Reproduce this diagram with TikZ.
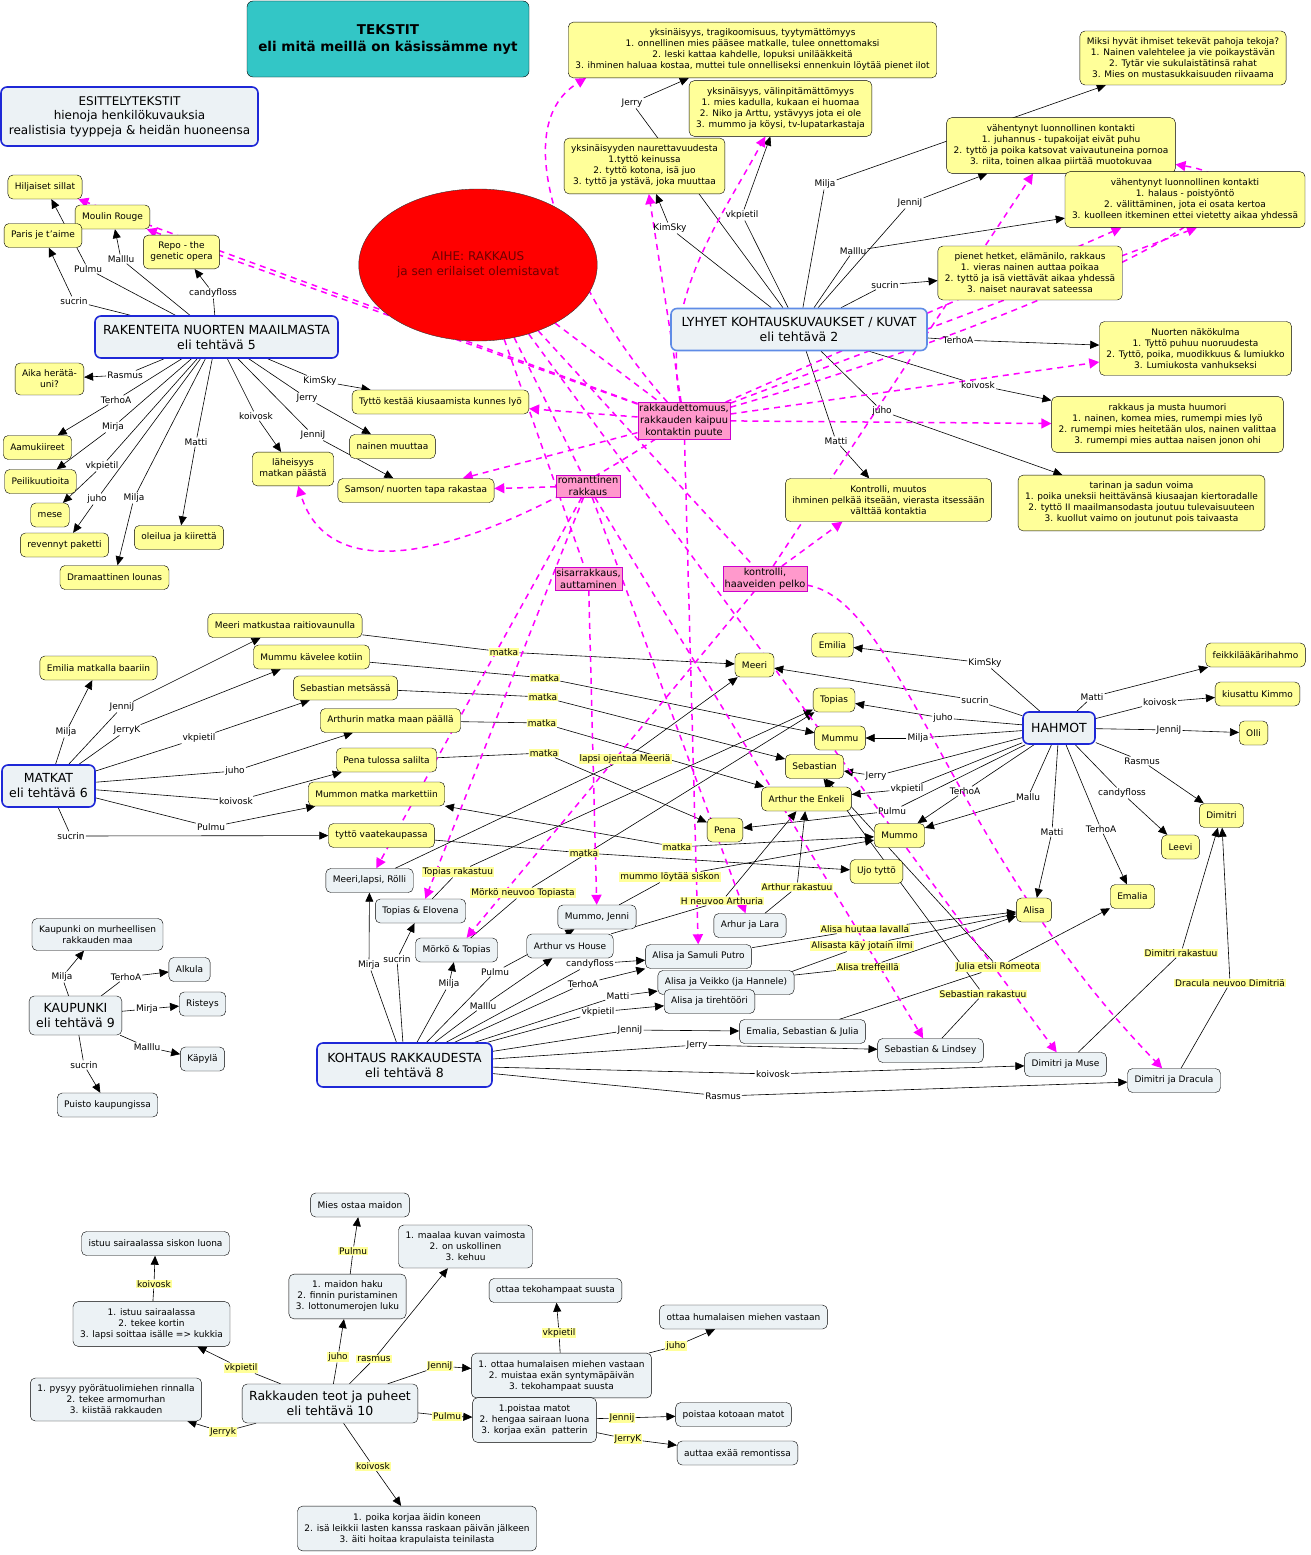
\documentclass[tikz,border=0pt]{standalone}
\usepackage{fontspec}
\setmainfont{DejaVu Sans}
\usetikzlibrary{arrows.meta,shapes.geometric,backgrounds,positioning}
\definecolor{keltainen}{RGB}{255,255,153}
\definecolor{harmaa}{RGB}{236,242,245}
\definecolor{sininen}{RGB}{30,40,215}
\definecolor{vaalsin}{RGB}{95,140,230}
\definecolor{turkoosi}{RGB}{51,198,198}
\definecolor{vpinkki}{RGB}{255,153,204}
\definecolor{fuksia}{RGB}{255,0,255}
\definecolor{tpuna}{RGB}{110,0,0}

\begin{document}
\begin{tikzpicture}[
    x=1pt, y=-1pt,
    >={Triangle[length=9pt,width=8pt]},
    every node/.style={font=\fontsize{9}{11}\selectfont, align=center},
    kelta/.style={draw, rounded corners=5pt, fill=keltainen, inner xsep=7pt, inner ysep=7pt, minimum height=24pt},
    harma/.style={kelta, fill=harmaa},
    paa/.style={draw=sininen, line width=1.6pt, rounded corners=6pt, fill=harmaa, font=\fontsize{12.5}{15}\selectfont},
    otsikko/.style={draw, rounded corners=6pt, fill=turkoosi, minimum width=282, minimum height=76, font=\bfseries\fontsize{13.5}{17}\selectfont},
    aiheel/.style={ellipse, draw=black!80, fill=red, text=tpuna, minimum width=234, minimum height=152, font=\fontsize{12}{15}\selectfont},
    teema/.style={draw=fuksia!80!black, fill=vpinkki, inner sep=1.5pt, font=\fontsize{9.8}{12}\selectfont},
    sana/.style={inner sep=1pt},
    kyltti/.style={inner sep=1pt, fill=keltainen},
    viiva/.style={line width=0.6pt},
    nuoli/.style={viiva, ->},
    haave/.style={draw=fuksia, line width=1.5pt, dash pattern=on 6pt off 5pt, -{Triangle[length=10pt,width=10pt]}, fuksia}
]
  \useasboundingbox (0,0) rectangle (1310,1555);

  % otsikot ja aihe
  \node[otsikko] (tekstit) at (388,39) {TEKSTIT\\eli mitä meillä on käsissämme nyt};
  \node[paa, minimum width=257, minimum height=59, font=\fontsize{12}{14.5}\selectfont] (esittely) at (129.5,116.5) {ESITTELYTEKSTIT\\hienoja henkilökuvauksia\\realistisia tyyppeja \& heidän huoneensa};
  \node[aiheel] (aihe) at (478,265) {AIHE: RAKKAUS\\ja sen erilaiset olemistavat};

  % tehtävä 5
  \node[paa, minimum width=243, minimum height=42] (rak) at (216.5,337) {RAKENTEITA NUORTEN MAAILMASTA\\eli tehtävä 5};
  \node[kelta] (hilj) at (45,187) {Hiljaiset sillat};
  \node[kelta] (moulin) at (112.5,217) {Moulin Rouge};
  \node[kelta] (paris) at (43,235.5) {Paris je t'aime};
  \node[kelta] (repo) at (181.5,252) {Repo - the\\genetic opera};
  \node[kelta] (aika) at (49.5,379) {Aika herätä-\\uni?};
  \node[kelta] (aamu) at (37.5,447.5) {Aamukiireet};
  \node[kelta] (peili) at (40.5,481.5) {Peilikuutioita};
  \node[kelta] (mese) at (50,515) {mese};
  \node[kelta] (paketti) at (64.5,545) {revennyt paketti};
  \node[kelta] (lounas) at (114.5,577.5) {Dramaattinen lounas};
  \node[kelta] (oleilua) at (179,537.5) {oleilua ja kiirettä};
  \node[kelta] (laheis) at (293,469) {läheisyys\\matkan päästä};
  \node[kelta] (kiusa) at (440.5,402) {Tyttö kestää kiusaamista kunnes lyö};
  \node[kelta] (nainen) at (392.5,446.5) {nainen muuttaa};
  \node[kelta] (samson) at (416,490.5) {Samson/ nuorten tapa rakastaa};

  \node[sana] (rsucrin) at (74,301) {sucrin};
  \node[sana] (rpulmu) at (88,269) {Pulmu};
  \node[sana] (rmalllu) at (121,259) {Malllu};
  \node[sana] (rcandy) at (213,293) {candyfloss};
  \node[sana] (rrasmus) at (125,375) {Rasmus};
  \node[sana] (rterho) at (116,400) {TerhoA};
  \node[sana] (rmirja) at (113,427) {Mirja};
  \node[sana] (rvkp) at (102,466) {vkpietil};
  \node[sana] (rjuho) at (97,499) {juho};
  \node[sana] (rmilja) at (134,498) {Milja};
  \node[sana] (rmatti) at (196,442) {Matti};
  \node[sana] (rkoivosk) at (256,416) {koivosk};
  \node[sana] (rjenni) at (313,435) {JenniJ};
  \node[sana] (rjerry) at (307,398) {Jerry};
  \node[sana] (rkimsky) at (320,381) {KimSky};

  % tehtävä 2
  \node[paa, draw=vaalsin, minimum width=256, minimum height=42] (lyhyet) at (799,329.5) {LYHYET KOHTAUSKUVAUKSET / KUVAT\\eli tehtävä 2};
  \node[kelta] (y1) at (752.5,50) {yksinäisyys, tragikoomisuus, tyytymättömyys\\1. onnellinen mies pääsee matkalle, tulee onnettomaksi\\2. leski kattaa kahdelle, lopuksi unilääkkeitä\\3. ihminen haluaa kostaa, muttei tule onnelliseksi ennenkuin löytää pienet ilot};
  \node[kelta] (y2) at (780.5,108.5) {yksinäisyys, välinpitämättömyys\\1. mies kadulla, kukaan ei huomaa\\2. Niko ja Arttu, ystävyys jota ei ole\\3. mummo ja köysi, tv-lupatarkastaja};
  \node[kelta] (y3) at (644.5,166) {yksinäisyyden naurettavuudesta\\1.tyttö keinussa\\2. tyttö kotona, isä juo\\3. tyttö ja ystävä, joka muuttaa};
  \node[kelta] (miksi) at (1183,58) {Miksi hyvät ihmiset tekevät pahoja tekoja?\\1. Nainen valehtelee ja vie poikaystävän\\2. Tytär vie sukulaistätinsä rahat\\3. Mies on mustasukkaisuuden riivaama};
  \node[kelta] (y5) at (1061,145.5) {vähentynyt luonnollinen kontakti\\1. juhannus - tupakoijat eivät puhu\\2. tyttö ja poika katsovat vaivautuneina pornoa\\3. riita, toinen alkaa piirtää muotokuvaa};
  \node[kelta] (y6) at (1185,199.5) {vähentynyt luonnollinen kontakti\\1. halaus - poistyöntö\\2. välittäminen, jota ei osata kertoa\\3. kuolleen itkeminen ettei vietetty aikaa yhdessä};
  \node[kelta] (y7) at (1030,273) {pienet hetket, elämänilo, rakkaus\\1. vieras nainen auttaa poikaa\\2. tyttö ja isä viettävät aikaa yhdessä\\3. naiset nauravat sateessa};
  \node[kelta] (y8) at (1195.5,348.5) {Nuorten näkökulma\\1. Tyttö puhuu nuoruudesta\\2. Tyttö, poika, muodikkuus \& lumiukko\\3. Lumiukosta vanhukseksi};
  \node[kelta] (y9) at (1167.5,424.5) {rakkaus ja musta huumori\\1. nainen, komea mies, rumempi mies lyö\\2. rumempi mies heitetään ulos, nainen valittaa\\3. rumempi mies auttaa naisen jonon ohi};
  \node[kelta] (y10) at (1141.5,503) {tarinan ja sadun voima\\1. poika uneksii heittävänsä kiusaajan kiertoradalle\\2. tyttö II maailmansodasta joutuu tulevaisuuteen\\3. kuollut vaimo on joutunut pois taivaasta};
  \node[kelta] (y11) at (888.5,500) {Kontrolli, muutos\\ihminen pelkää itseään, vierasta itsessään\\välttää kontaktia};

  \node[sana] (ljerry) at (632,103) {Jerry};
  \node[sana] (lkimsky) at (670,228) {KimSky};
  \node[sana] (lvkp) at (742,215) {vkpietil};
  \node[sana] (lmilja) at (825,184) {Milja};
  \node[sana] (ljenni) at (910,203) {JenniJ};
  \node[sana] (lmalllu) at (853,251) {Malllu};
  \node[sana] (lsucrin) at (885,285) {sucrin};
  \node[sana] (lterho) at (958,340) {TerhoA};
  \node[sana] (lkoivosk) at (978,385) {koivosk};
  \node[sana] (ljuho) at (882,411) {juho};
  \node[sana] (lmatti) at (836,441) {Matti};

  % teemat
  \node[teema] (p1) at (684,420.5) {rakkaudettomuus,\\rakkauden kaipuu\\kontaktin puute};
  \node[teema] (p2) at (588,486) {romanttinen\\rakkaus};
  \node[teema] (p3) at (588.5,578.5) {sisarrakkaus,\\auttaminen};
  \node[teema] (p4) at (765,578.5) {kontrolli,\\haaveiden pelko};

  % tehtävä 6
  \node[paa, minimum width=93, minimum height=42] (matkat) at (48.5,786) {MATKAT\\eli tehtävä 6};
  \node[kelta] (emiliab) at (98.5,668) {Emilia matkalla baariin};
  \node[kelta] (meerir) at (285,625.5) {Meeri matkustaa raitiovaunulla};
  \node[kelta] (mummuk) at (311.5,657) {Mummu kävelee kotiin};
  \node[kelta] (sebm) at (345.5,688) {Sebastian metsässä};
  \node[kelta] (arthm) at (390.5,720.5) {Arthurin matka maan päällä};
  \node[kelta] (penas) at (386.5,760) {Pena tulossa salilta};
  \node[kelta] (mummonm) at (376.5,794) {Mummon matka markettiin};
  \node[kelta] (tyttov) at (381.5,835.5) {tyttö vaatekaupassa};

  \node[sana] (mmilja) at (66,732) {Milja};
  \node[sana] (mjenni) at (122,707) {JenniJ};
  \node[sana] (mjerryk) at (127,730) {JerryK};
  \node[sana] (mvkp) at (199,738) {vkpietil};
  \node[sana] (mjuho) at (235,771) {juho};
  \node[sana] (mkoivosk) at (236,801) {koivosk};
  \node[sana] (mpulmu) at (211,827) {Pulmu};
  \node[sana] (msucrin) at (71,836) {sucrin};

  % hahmot
  \node[paa, minimum width=72, minimum height=32] (hahmot) at (1059,728) {HAHMOT};
  \node[kelta] (emilia) at (832.5,645) {Emilia};
  \node[kelta] (meeri) at (754.5,665) {Meeri};
  \node[kelta] (topias) at (834,700) {Topias};
  \node[kelta] (mummu) at (840,738) {Mummu};
  \node[kelta] (sebastian) at (814.5,766.5) {Sebastian};
  \node[kelta] (arthur) at (806.5,799) {Arthur the Enkeli};
  \node[kelta] (pena) at (725,830) {Pena};
  \node[kelta] (mummo) at (899.5,835.5) {Mummo};
  \node[kelta] (ujo) at (876.5,871.5) {Ujo tyttö};
  \node[kelta] (alisa) at (1034,910) {Alisa};
  \node[kelta] (emalia) at (1132.5,896.5) {Emalia};
  \node[kelta] (leevi) at (1180.5,847) {Leevi};
  \node[kelta] (dimitri) at (1221.5,815.5) {Dimitri};
  \node[kelta] (feikki) at (1255.5,655) {feikkilääkärihahmo};
  \node[kelta] (kimmo) at (1257.5,694) {kiusattu Kimmo};
  \node[kelta] (olli) at (1253.5,733) {Olli};

  \node[sana] (hkimsky) at (985,663) {KimSky};
  \node[sana] (hsucrin) at (975,700) {sucrin};
  \node[sana] (hjuho) at (943,718) {juho};
  \node[sana] (hmilja) at (918,738) {Milja};
  \node[sana] (hjerry) at (876,776) {Jerry};
  \node[sana] (hvkp) at (907,789) {vkpietil};
  \node[sana] (hterho) at (965,791) {TerhoA};
  \node[sana] (hpulmu) at (892,811) {Pulmu};
  \node[sana] (hmallu) at (1028,797) {Mallu};
  \node[sana] (hmatti) at (1052,832) {Matti};
  \node[sana] (hterhob) at (1101,829) {TerhoA};
  \node[sana] (hcandy) at (1122,793) {candyfloss};
  \node[sana] (hrasmus) at (1142,761) {Rasmus};
  \node[sana] (hmattib) at (1092,697) {Matti};
  \node[sana] (hkoivosk) at (1160,702) {koivosk};
  \node[sana] (hjenni) at (1169,730) {JenniJ};

  % tehtävä 8
  \node[paa, minimum width=175, minimum height=44] (kohtaus) at (404.5,1065) {KOHTAUS RAKKAUDESTA\\eli tehtävä 8};
  \node[harma] (meeril) at (369.5,880.5) {Meeri,lapsi, Rölli};
  \node[harma] (topiase) at (420.5,911) {Topias \& Elovena};
  \node[harma] (morko) at (456.5,950) {Mörkö \& Topias};
  \node[harma] (arthh) at (570,946) {Arthur vs House};
  \node[harma] (mummoj) at (597,917) {Mummo, Jenni};
  \node[harma] (arhurl) at (750,925.5) {Arhur ja Lara};
  \node[harma] (alisas) at (698.5,956.5) {Alisa ja Samuli Putro};
  \node[harma] (alisav) at (726,982.5) {Alisa ja Veikko (ja Hannele)};
  \node[harma] (alisat) at (709.5,1001.5) {Alisa ja tirehtööri};
  \node[harma] (emalias) at (802.5,1031.5) {Emalia, Sebastian \& Julia};
  \node[harma] (sebl) at (930.5,1050.5) {Sebastian \& Lindsey};
  \node[harma] (dimm) at (1065.5,1064.5) {Dimitri ja Muse};
  \node[harma] (dimd) at (1174,1080.5) {Dimitri ja Dracula};

  \node[sana] (kmirja) at (369,965) {Mirja};
  \node[sana] (ksucrin) at (397,959) {sucrin};
  \node[sana] (kmilja) at (449,984) {Milja};
  \node[sana] (kpulmu) at (495,972) {Pulmu};
  \node[sana] (kmalllu) at (483,1006) {Malllu};
  \node[sana] (kcandy) at (590,964) {candyfloss};
  \node[sana] (kterho) at (583,984) {TerhoA};
  \node[sana] (kmatti) at (618,996) {Matti};
  \node[sana] (kvkp) at (598,1012) {vkpietil};
  \node[sana] (kjenni) at (630,1030) {JenniJ};
  \node[sana] (kjerry) at (697,1045) {Jerry};
  \node[sana] (kkoivosk) at (773,1074) {koivosk};
  \node[sana] (krasmus) at (723,1096) {Rasmus};

  % matkat ja kohtaukset hahmoihin
  \node[kyltti] (xm1) at (504,652) {matka};
  \node[kyltti] (xm2) at (545,678) {matka};
  \node[kyltti] (xm3) at (543,697) {matka};
  \node[kyltti] (xm4) at (542,723) {matka};
  \node[kyltti] (xm5) at (544,753) {matka};
  \node[kyltti] (xm6) at (677,847) {matka};
  \node[kyltti] (xm7) at (584,853) {matka};
  \node[kyltti] (xlapsi) at (625,759) {lapsi ojentaa Meeriä};
  \node[kyltti] (xtopr) at (458,872) {Topias rakastuu};
  \node[kyltti] (xmork) at (523,893) {Mörkö neuvoo Topiasta};
  \node[kyltti] (xsisko) at (670,877) {mummo löytää siskon};
  \node[kyltti] (xhneu) at (722,901) {H neuvoo Arthuria};
  \node[kyltti] (xarthr) at (797,887) {Arthur rakastuu};
  \node[kyltti] (xhuut) at (865,929) {Alisa huutaa lavalla};
  \node[kyltti] (xilmi) at (862,946) {Alisasta käy jotain ilmi};
  \node[kyltti] (xtref) at (868,967) {Alisa treffeillä};
  \node[kyltti] (xjulia) at (998,967) {Julia etsii Romeota};
  \node[kyltti] (xsebr) at (983,994) {Sebastian rakastuu};
  \node[kyltti] (xdimr) at (1181,953) {Dimitri rakastuu};
  \node[kyltti] (xdrac) at (1230,983) {Dracula neuvoo Dimitriä};

  % tehtävä 9
  \node[harma, font=\fontsize{12.5}{15}\selectfont, minimum width=91, minimum height=39] (kaup) at (75.5,1015.5) {KAUPUNKI\\eli tehtävä 9};
  \node[harma] (murhe) at (97.5,934.5) {Kaupunki on murheellisen\\rakkauden maa};
  \node[harma] (alkula) at (189.5,969.5) {Alkula};
  \node[harma] (risteys) at (202.5,1004) {Risteys};
  \node[harma] (kapyla) at (202.5,1059) {Käpylä};
  \node[harma] (puisto) at (107.5,1105) {Puisto kaupungissa};

  \node[sana] (cmilja) at (62,977) {Milja};
  \node[sana] (cterho) at (126,977) {TerhoA};
  \node[sana] (cmirja) at (147,1009) {Mirja};
  \node[sana] (cmalllu) at (147,1047) {Malllu};
  \node[sana] (csucrin) at (84,1065) {sucrin};

  % tehtävä 10
  \node[harma, font=\fontsize{12.5}{15}\selectfont, minimum width=174, minimum height=39] (teot) at (330,1403.5) {Rakkauden teot ja puheet\\eli tehtävä 10};
  \node[harma] (mies) at (360,1205) {Mies ostaa maidon};
  \node[harma] (maito) at (347.5,1296.5) {1. maidon haku\\2. finnin puristaminen\\3. lottonumerojen luku};
  \node[harma] (siskon) at (155.5,1243.5) {istuu sairaalassa siskon luona};
  \node[harma] (sairaala) at (151.5,1324) {1. istuu sairaalassa\\2. tekee kortin\\3. lapsi soittaa isälle => kukkia};
  \node[harma] (pysyy) at (116,1399.5) {1. pysyy pyörätuolimiehen rinnalla\\2. tekee armomurhan\\3. kiistää rakkauden};
  \node[harma] (poika) at (417,1528.5) {1. poika korjaa äidin koneen\\2. isä leikkii lasten kanssa raskaan päivän jälkeen\\3. äiti hoitaa krapulaista teinilasta};
  \node[harma] (maalaa) at (465.5,1246.5) {1. maalaa kuvan vaimosta\\2. on uskollinen\\3. kehuu};
  \node[harma] (hampaat) at (555.5,1290.5) {ottaa tekohampaat suusta};
  \node[harma] (humal) at (743.5,1317) {ottaa humalaisen miehen vastaan};
  \node[harma] (ottaa) at (561.5,1375.5) {1. ottaa humalaisen miehen vastaan\\2. muistaa exän syntymäpäivän\\3. tekohampaat suusta};
  \node[harma] (poistaa) at (534.5,1420) {1.poistaa matot\\2. hengaa sairaan luona\\3. korjaa exän\ \ patterin};
  \node[harma] (matot) at (733.5,1414.5) {poistaa kotoaan matot};
  \node[harma] (remontti) at (737.5,1453) {auttaa exää remontissa};

  \node[kyltti] (tkoivosk) at (154,1284) {koivosk};
  \node[kyltti] (tpulmu) at (353,1251) {Pulmu};
  \node[kyltti] (tjuho) at (338,1357) {juho};
  \node[kyltti] (trasmus) at (374,1359) {rasmus};
  \node[kyltti] (tvkp) at (241,1368) {vkpietil};
  \node[kyltti] (tjerryk) at (223,1432) {Jerryk};
  \node[kyltti] (tkoivoskb) at (373,1466) {koivosk};
  \node[kyltti] (tjenni) at (440,1366) {JenniJ};
  \node[kyltti] (tpulmub) at (447,1416) {Pulmu};
  \node[kyltti] (tvkpb) at (559,1333) {vkpietil};
  \node[kyltti] (tjuhob) at (676,1346) {juho};
  \node[kyltti] (tjennij) at (622,1418) {Jennij};
  \node[kyltti] (tjerrykb) at (628,1439) {JerryK};

  \begin{pgfonlayer}{background}
    \fill[white] (0,0) rectangle (1310,1555);

    % tehtävä 5
    \draw[viiva] (rak) -- (rsucrin);  \draw[nuoli] (rsucrin) -- (paris);
    \draw[viiva] (rak) -- (rpulmu);   \draw[nuoli] (rpulmu) -- (hilj);
    \draw[viiva] (rak) -- (rmalllu);  \draw[nuoli] (rmalllu) -- (moulin);
    \draw[viiva] (rak) -- (rcandy);   \draw[nuoli] (rcandy) -- (repo);
    \draw[viiva] (rak) -- (rrasmus);  \draw[nuoli] (rrasmus) -- (aika);
    \draw[viiva] (rak) -- (rterho);   \draw[nuoli] (rterho) -- (aamu);
    \draw[viiva] (rak) -- (rmirja);   \draw[nuoli] (rmirja) -- (peili);
    \draw[viiva] (rak) -- (rvkp);     \draw[nuoli] (rvkp) -- (mese);
    \draw[viiva] (rak) -- (rjuho);    \draw[nuoli] (rjuho) -- (paketti);
    \draw[viiva] (rak) -- (rmilja);   \draw[nuoli] (rmilja) -- (lounas);
    \draw[viiva] (rak) -- (rmatti);   \draw[nuoli] (rmatti) -- (oleilua);
    \draw[viiva] (rak) -- (rkoivosk); \draw[nuoli] (rkoivosk) -- (laheis);
    \draw[viiva] (rak) -- (rjenni);   \draw[nuoli] (rjenni) -- (samson);
    \draw[viiva] (rak) -- (rjerry);   \draw[nuoli] (rjerry) -- (nainen);
    \draw[viiva] (rak) -- (rkimsky);  \draw[nuoli] (rkimsky) -- (kiusa);

    % tehtävä 2
    \draw[viiva] (lyhyet) -- (ljerry);   \draw[nuoli] (ljerry) -- (y1);
    \draw[viiva] (lyhyet) -- (lkimsky);  \draw[nuoli] (lkimsky) -- (y3);
    \draw[viiva] (lyhyet) -- (lvkp);     \draw[nuoli] (lvkp) -- (y2);
    \draw[viiva] (lyhyet) -- (lmilja);   \draw[nuoli] (lmilja) -- (miksi);
    \draw[viiva] (lyhyet) -- (ljenni);   \draw[nuoli] (ljenni) -- (y5);
    \draw[viiva] (lyhyet) -- (lmalllu);  \draw[nuoli] (lmalllu) -- (y6);
    \draw[viiva] (lyhyet) -- (lsucrin);  \draw[nuoli] (lsucrin) -- (y7);
    \draw[viiva] (lyhyet) -- (lterho);   \draw[nuoli] (lterho) -- (y8);
    \draw[viiva] (lyhyet) -- (lkoivosk); \draw[nuoli] (lkoivosk) -- (y9);
    \draw[viiva] (lyhyet) -- (ljuho);    \draw[nuoli] (ljuho) -- (y10);
    \draw[viiva] (lyhyet) -- (lmatti);   \draw[nuoli] (lmatti) -- (y11);

    % tehtävä 6
    \draw[viiva] (matkat) -- (mmilja);   \draw[nuoli] (mmilja) -- (emiliab);
    \draw[viiva] (matkat) -- (mjenni);   \draw[nuoli] (mjenni) -- (meerir);
    \draw[viiva] (matkat) -- (mjerryk);  \draw[nuoli] (mjerryk) -- (mummuk);
    \draw[viiva] (matkat) -- (mvkp);     \draw[nuoli] (mvkp) -- (sebm);
    \draw[viiva] (matkat) -- (mjuho);    \draw[nuoli] (mjuho) -- (arthm);
    \draw[viiva] (matkat) -- (mkoivosk); \draw[nuoli] (mkoivosk) -- (penas);
    \draw[viiva] (matkat) -- (mpulmu);   \draw[nuoli] (mpulmu) -- (mummonm);
    \draw[viiva] (matkat) -- (msucrin);  \draw[nuoli] (msucrin) -- (tyttov);

    % hahmot
    \draw[viiva] (hahmot) -- (hkimsky);  \draw[nuoli] (hkimsky) -- (emilia);
    \draw[viiva] (hahmot) -- (hsucrin);  \draw[nuoli] (hsucrin) -- (meeri);
    \draw[viiva] (hahmot) -- (hjuho);    \draw[nuoli] (hjuho) -- (topias);
    \draw[viiva] (hahmot) -- (hmilja);   \draw[nuoli] (hmilja) -- (mummu);
    \draw[viiva] (hahmot) -- (hjerry);   \draw[nuoli] (hjerry) -- (sebastian);
    \draw[viiva] (hahmot) -- (hvkp);     \draw[nuoli] (hvkp) -- (arthur);
    \draw[viiva] (hahmot) -- (hterho);   \draw[nuoli] (hterho) -- (mummo);
    \draw[viiva] (hahmot) -- (hpulmu);   \draw[nuoli] (hpulmu) -- (pena);
    \draw[viiva] (hahmot) -- (hmallu);   \draw[nuoli] (hmallu) -- (mummo);
    \draw[viiva] (hahmot) -- (hmatti);   \draw[nuoli] (hmatti) -- (alisa);
    \draw[viiva] (hahmot) -- (hterhob);  \draw[nuoli] (hterhob) -- (emalia);
    \draw[viiva] (hahmot) -- (hcandy);   \draw[nuoli] (hcandy) -- (leevi);
    \draw[viiva] (hahmot) -- (hrasmus);  \draw[nuoli] (hrasmus) -- (dimitri);
    \draw[viiva] (hahmot) -- (hmattib);  \draw[nuoli] (hmattib) -- (feikki);
    \draw[viiva] (hahmot) -- (hkoivosk); \draw[nuoli] (hkoivosk) -- (kimmo);
    \draw[viiva] (hahmot) -- (hjenni);   \draw[nuoli] (hjenni) -- (olli);

    % tehtävä 8
    \draw[viiva] (kohtaus) -- (kmirja);   \draw[nuoli] (kmirja) -- (meeril);
    \draw[viiva] (kohtaus) -- (ksucrin);  \draw[nuoli] (ksucrin) -- (topiase);
    \draw[viiva] (kohtaus) -- (kmilja);   \draw[nuoli] (kmilja) -- (morko);
    \draw[viiva] (kohtaus) -- (kpulmu);   \draw[nuoli] (kpulmu) -- (mummoj);
    \draw[viiva] (kohtaus) -- (kmalllu);  \draw[nuoli] (kmalllu) -- (arthh);
    \draw[viiva] (kohtaus) -- (kcandy);   \draw[nuoli] (kcandy) -- (alisas);
    \draw[viiva] (kohtaus) -- (kterho);   \draw[nuoli] (kterho) -- (alisas.south west);
    \draw[viiva] (kohtaus) -- (kmatti);   \draw[nuoli] (kmatti) -- (alisav);
    \draw[viiva] (kohtaus) -- (kvkp);     \draw[nuoli] (kvkp) -- (alisat);
    \draw[viiva] (kohtaus) -- (kjenni);   \draw[nuoli] (kjenni) -- (emalias);
    \draw[viiva] (kohtaus) -- (kjerry);   \draw[nuoli] (kjerry) -- (sebl);
    \draw[viiva] (kohtaus) -- (kkoivosk); \draw[nuoli] (kkoivosk) -- (dimm);
    \draw[viiva] (kohtaus) -- (krasmus);  \draw[nuoli] (krasmus) -- (dimd);

    % matkat ja kohtaukset hahmoihin
    \draw[viiva] (meerir) -- (xm1);    \draw[nuoli] (xm1) -- (meeri);
    \draw[viiva] (mummuk) -- (xm2);    \draw[nuoli] (xm2) -- (mummu);
    \draw[viiva] (sebm) -- (xm3);      \draw[nuoli] (xm3) -- (sebastian);
    \draw[viiva] (arthm) -- (xm4);     \draw[nuoli] (xm4) -- (arthur);
    \draw[viiva] (penas) -- (xm5);     \draw[nuoli] (xm5) -- (pena);
    \draw[nuoli] (xm6) -- (mummonm);   \draw[nuoli] (xm6) -- (mummo);
    \draw[viiva] (tyttov) -- (xm7);    \draw[nuoli] (xm7) -- (ujo);
    \draw[viiva] (meeril) -- (xlapsi); \draw[nuoli] (xlapsi) -- (meeri);
    \draw[viiva] (topiase) -- (xtopr); \draw[nuoli] (xtopr) -- (topias);
    \draw[viiva] (morko) -- (xmork);   \draw[nuoli] (xmork) -- (topias);
    \draw[viiva] (mummoj) -- (xsisko); \draw[nuoli] (xsisko) -- (mummo);
    \draw[viiva] (arthh) -- (xhneu);   \draw[nuoli] (xhneu) -- (arthur);
    \draw[viiva] (arhurl) -- (xarthr); \draw[nuoli] (xarthr) -- (arthur);
    \draw[viiva] (alisas) -- (xhuut);  \draw[nuoli] (xhuut) -- (alisa);
    \draw[viiva] (alisat) -- (xilmi);  \draw[nuoli] (xilmi) -- (alisa);
    \draw[viiva] (alisav) -- (xtref);  \draw[nuoli] (xtref) -- (alisa);
    \draw[viiva] (emalias) -- (xjulia); \draw[nuoli] (xjulia) -- (emalia);
    \draw[nuoli] (xjulia) -- (sebastian);
    \draw[viiva] (sebl) -- (xsebr);    \draw[nuoli] (xsebr) -- (sebastian);
    \draw[viiva] (dimm) -- (xdimr);    \draw[nuoli] (xdimr) -- (dimitri);
    \draw[viiva] (dimd) -- (xdrac);    \draw[nuoli] (xdrac) -- (dimitri);

    % tehtävä 9
    \draw[viiva] (kaup) -- (cmilja);  \draw[nuoli] (cmilja) -- (murhe);
    \draw[viiva] (kaup) -- (cterho);  \draw[nuoli] (cterho) -- (alkula);
    \draw[viiva] (kaup) -- (cmirja);  \draw[nuoli] (cmirja) -- (risteys);
    \draw[viiva] (kaup) -- (cmalllu); \draw[nuoli] (cmalllu) -- (kapyla);
    \draw[viiva] (kaup) -- (csucrin); \draw[nuoli] (csucrin) -- (puisto);

    % tehtävä 10
    \draw[viiva] (sairaala) -- (tkoivosk); \draw[nuoli] (tkoivosk) -- (siskon);
    \draw[viiva] (maito) -- (tpulmu);      \draw[nuoli] (tpulmu) -- (mies);
    \draw[viiva] (teot) -- (tjuho);        \draw[nuoli] (tjuho) -- (maito);
    \draw[viiva] (teot) -- (trasmus);      \draw[nuoli] (trasmus) -- (maalaa);
    \draw[viiva] (teot) -- (tvkp);         \draw[nuoli] (tvkp) -- (sairaala);
    \draw[viiva] (teot) -- (tjerryk);      \draw[nuoli] (tjerryk) -- (pysyy);
    \draw[viiva] (teot) -- (tkoivoskb);    \draw[nuoli] (tkoivoskb) -- (poika);
    \draw[viiva] (teot) -- (tjenni);       \draw[nuoli] (tjenni) -- (ottaa);
    \draw[viiva] (teot) -- (tpulmub);      \draw[nuoli] (tpulmub) -- (poistaa);
    \draw[viiva] (ottaa) -- (tvkpb);       \draw[nuoli] (tvkpb) -- (hampaat);
    \draw[viiva] (ottaa) -- (tjuhob);      \draw[nuoli] (tjuhob) -- (humal);
    \draw[viiva] (poistaa) -- (tjennij);   \draw[nuoli] (tjennij) -- (matot);
    \draw[viiva] (poistaa) -- (tjerrykb);  \draw[nuoli] (tjerrykb) -- (remontti);

    % teemojen yhteydet
    \draw[haave, -] (aihe) -- (p1);
    \draw[haave, -] (aihe) -- (p2);
    \draw[haave, -] (aihe) -- (p3);
    \draw[haave, -] (aihe) -- (p4);
    \draw[haave] (p1) -- (hilj);
    \draw[haave] (p1) -- (moulin);
    \draw[haave] (p1) -- (kiusa);
    \draw[haave] (p1) -- (samson);
    \draw[haave] (p2) -- (samson);
    \draw[haave] (p1) .. controls (470,560) and (330,590) .. (laheis);
    \draw[haave] (p1) .. controls (575,300) and (500,130) .. ([xshift=18]y1.south west);
    \draw[haave] (p1) -- (y3);
    \draw[haave] (p1) .. controls (660,300) and (720,220) .. (y2);
    \draw[haave] (p1) .. controls (1000,330) and (1330,190) .. (y5);
    \draw[haave] (p1) -- (y6);
    \draw[haave] (p1) -- ([xshift=12]y6.south);
    \draw[haave] (p1) -- (y8);
    \draw[haave] (p1) -- (y9);
    \draw[haave] (p1) -- (alisas);
    \draw[haave] (p4) -- ([xshift=-28]y5.south);
    \draw[haave] (p4) -- ([xshift=-46]y11.south);
    \draw[haave] (p4) .. controls (900,600) and (950,850) .. (dimd);
    \draw[haave] (p4) -- (morko);
    \draw[haave] (aihe) -- (dimm);
    \draw[haave] (p2) -- (arhurl);
    \draw[haave] (p2) -- (sebl);
    \draw[haave] (p2) -- (meeril);
    \draw[haave] (p2) -- (topiase);
    \draw[haave] (p3) -- (mummoj);
  \end{pgfonlayer}
\end{tikzpicture}
\end{document}
